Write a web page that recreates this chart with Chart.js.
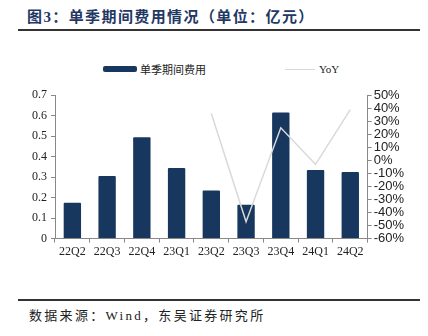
<!DOCTYPE html>
<html>
<head>
<meta charset="utf-8">
<script src="https://cdn.jsdelivr.net/npm/chart.js@4"></script>
<style>
  body { margin: 0; width: 428px; height: 336px; background: #fff; position: relative; overflow: hidden;
         font-family: "Liberation Serif", "Noto Sans CJK SC", serif; }
  #title { position: absolute; left: 27px; top: 5px; font-size: 15px; font-weight: bold; color: #1f3864; letter-spacing: 1.4px; }
  .rule { position: absolute; left: 18px; width: 402px; height: 2px; background: #333; }
  #legend { position: absolute; top: 61px; left: 0; width: 428px; height: 16px; font-size: 11px; color: #222; }
  .lg { position: absolute; top: 0; display: flex; align-items: center; height: 16px; }
  #footer { position: absolute; left: 29px; top: 305px; font-size: 13px; color: #222; letter-spacing: 2.3px; }
  #wrap { position: absolute; left: 0; top: 84px; width: 428px; height: 177px; }
</style>
</head>
<body>
<div id="title">图3：单季期间费用情况（单位：亿元）</div>
<div class="rule" style="top:29px"></div>
<div id="legend">
  <div class="lg" style="left:103px"><span style="display:inline-block;width:34px;height:6px;background:#17375e;border-radius:2px;margin-right:3px"></span>单季期间费用</div>
  <div class="lg" style="left:285px"><span style="display:inline-block;width:30px;height:1px;background:#d9d9d9;margin-right:4px"></span>YoY</div>
</div>
<div id="wrap"><canvas id="c"></canvas></div>
<div class="rule" style="top:299px"></div>
<div id="footer">数据来源：Wind，东吴证券研究所</div>
<script>
// quarters on the x axis
const quarters = ['22Q2', '22Q3', '22Q4', '23Q1', '23Q2', '23Q3', '23Q4', '24Q1', '24Q2'];
// single-quarter period expenses, 100m yuan
const expenses = [0.175, 0.305, 0.495, 0.345, 0.235, 0.165, 0.615, 0.335, 0.325];
// year-on-year change, fraction (no value before 23Q2)
const yoy = [null, null, null, null, 0.36, -0.47, 0.25, -0.03, 0.39];

const serif = { family: '"Liberation Serif", serif', size: 12 };
const sans = { family: '"Liberation Sans", Arial, sans-serif', size: 13 };

new Chart(document.getElementById('c'), {
  type: 'bar',
  data: {
    labels: quarters,
    datasets: [
      {
        type: 'line',
        label: 'YoY',
        data: yoy,
        yAxisID: 'y1',
        borderColor: '#d9d9d9',
        borderWidth: 1.5,
        pointRadius: 0,
        tension: 0,
        order: 0
      },
      {
        label: '单季期间费用',
        data: expenses,
        yAxisID: 'y',
        backgroundColor: '#17375e',
        categoryPercentage: 1,
        barPercentage: 0.5,
        borderRadius: 1,
        order: 1
      }
    ]
  },
  options: {
    responsive: true,
    maintainAspectRatio: false,
    animation: false,
    layout: { padding: { left: 28, right: 22, top: 4, bottom: 0 } },
    plugins: { legend: { display: false }, tooltip: { enabled: false } },
    scales: {
      x: {
        offset: true,
        grid: { display: true, drawOnChartArea: false, tickLength: 4, color: '#888', offset: true },
        border: { color: '#888' },
        ticks: { font: serif, color: '#222', padding: 2, maxRotation: 0 }
      },
      y: {
        position: 'left',
        min: 0,
        max: 0.7,
        grid: { drawOnChartArea: false, tickLength: 4, color: '#888' },
        border: { color: '#888' },
        ticks: {
          stepSize: 0.1,
          font: serif,
          color: '#222',
          padding: 4,
          callback: v => v === 0 ? '0' : v.toFixed(1)
        }
      },
      y1: {
        position: 'right',
        min: -0.6,
        max: 0.5,
        grid: { drawOnChartArea: false, tickLength: 4, color: '#888' },
        border: { color: '#888' },
        ticks: {
          stepSize: 0.1,
          autoSkip: false,
          font: sans,
          color: '#222',
          padding: 2,
          callback: v => Math.round(v * 100) + '%'
        }
      }
    }
  }
});
</script>
</body>
</html>
